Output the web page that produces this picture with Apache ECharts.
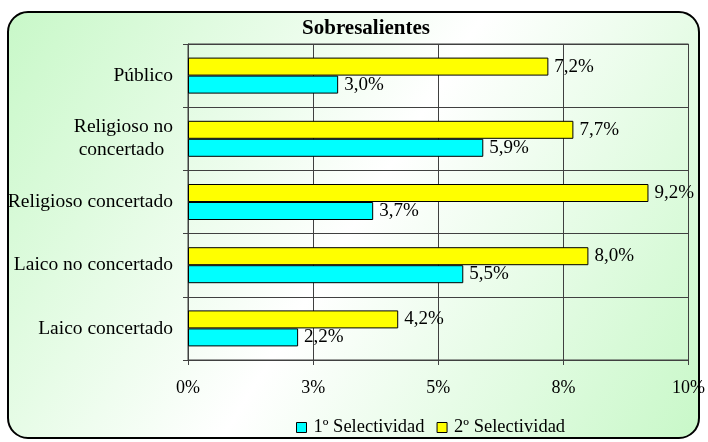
<!DOCTYPE html>
<html>
<head>
<meta charset="utf-8">
<script src="https://cdn.jsdelivr.net/npm/echarts@6/dist/echarts.min.js"></script>
<style>
html,body{margin:0;padding:0;background:#ffffff;}
#c{width:708px;height:442px;}
</style>
</head>
<body>
<div id="c"></div>
<script>
var categories = ['Laico concertado', 'Laico no concertado', 'Religioso concertado', 'Religioso no\nconcertado \u2009', 'Público'];
var seriesNames = ['1º Selectividad', '2º Selectividad'];
var primera = [2.2, 5.5, 3.7, 5.9, 3.0];
var segunda = [4.2, 8.0, 9.2, 7.7, 7.2];
var tickLabels = ['0%', '3%', '5%', '8%', '10%'];
var titleText = 'Sobresalientes';

var FONT = 'Liberation Serif';
function fmt(p){ return p.value.toFixed(1).replace('.', ',') + '%'; }

var chart = echarts.init(document.getElementById('c'), null, {renderer: 'canvas'});
chart.setOption({
  animation: false,
  backgroundColor: 'transparent',
  graphic: [{
    type: 'rect',
    z: -10,
    silent: true,
    shape: {x: 8, y: 12, width: 691, height: 426, r: 20},
    style: {
      fill: new echarts.graphic.LinearGradient(0, 0, 1, 1, [
        {offset: 0, color: '#c8f8c8'},
        {offset: 0.5, color: '#ffffff'},
        {offset: 1, color: '#c8f8c8'}
      ]),
      stroke: '#000000',
      lineWidth: 2
    }
  }],
  title: {
    text: titleText,
    left: 361,
    textAlign: 'center',
    top: 13,
    textStyle: {fontFamily: FONT, fontSize: 21, fontWeight: 'bold', color: '#000'}
  },
  legend: {
    top: 413,
    left: 291,
    itemWidth: 10,
    itemHeight: 10,
    itemGap: 12,
    icon: 'rect',
    data: seriesNames,
    itemStyle: {borderColor: '#000', borderWidth: 1},
    textStyle: {fontFamily: FONT, fontSize: 18.5, color: '#000', padding: [0, 0, 0, 2]}
  },
  grid: {
    left: 188, right: 18, top: 44, bottom: 82,
    show: true, borderColor: '#404040', borderWidth: 1,
    backgroundColor: 'transparent'
  },
  xAxis: {
    type: 'value',
    min: 0, max: 10, interval: 2.5,
    axisLine: {show: true, lineStyle: {color: '#404040'}},
    axisTick: {show: true, length: 5, lineStyle: {color: '#404040'}},
    splitLine: {show: true, lineStyle: {color: '#404040', width: 1}},
    axisLabel: {
      margin: 19,
      fontFamily: FONT, fontSize: 18, color: '#000',
      formatter: function (v) { return tickLabels[Math.round(v / 2.5)]; }
    }
  },
  yAxis: {
    type: 'category',
    data: categories,
    axisLine: {show: true, lineStyle: {color: '#404040'}},
    axisTick: {show: true, length: 5, lineStyle: {color: '#404040'}},
    splitLine: {show: true, lineStyle: {color: '#404040', width: 1}},
    axisLabel: {margin: 15, fontFamily: FONT, fontSize: 19.5, color: '#000', lineHeight: 23}
  },
  series: [{
    name: seriesNames[1],
    type: 'bar',
    data: segunda,
    barWidth: 18,
    barGap: '0%',
    itemStyle: {color: '#ffff00', borderColor: '#000', borderWidth: 1},
    label: {show: true, position: 'right', distance: 6, fontFamily: FONT, fontSize: 19, color: '#000', formatter: fmt}
  }, {
    name: seriesNames[0],
    type: 'bar',
    data: primera,
    barWidth: 18,
    barGap: '0%',
    itemStyle: {color: '#00ffff', borderColor: '#000', borderWidth: 1},
    label: {show: true, position: 'right', distance: 6, fontFamily: FONT, fontSize: 19, color: '#000', formatter: fmt}
  }]
});
</script>
</body>
</html>
